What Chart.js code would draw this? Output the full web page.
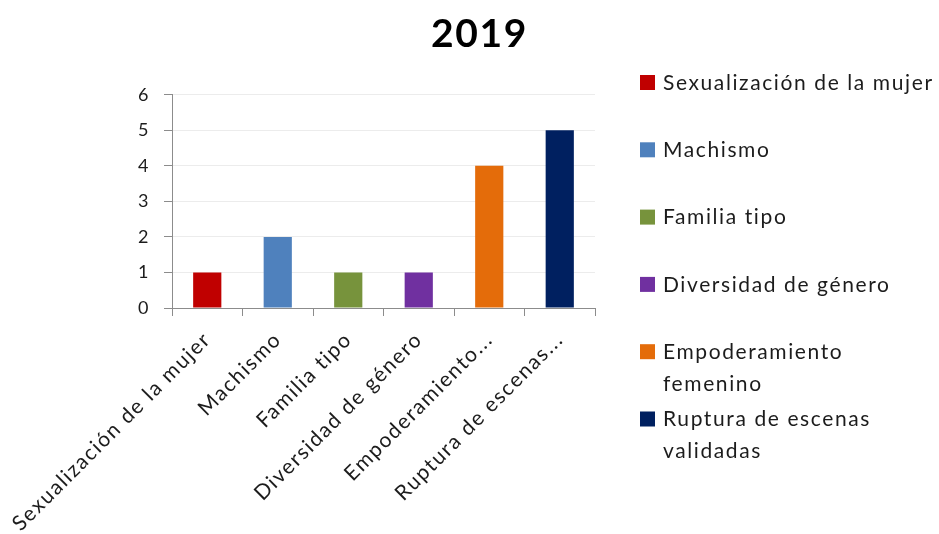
<!DOCTYPE html>
<html>
<head>
<meta charset="utf-8">
<script src="https://cdn.jsdelivr.net/npm/chart.js@4/dist/chart.umd.min.js"></script>
<style>
  body { margin: 0; background: #fff; }
  #wrap { width: 939px; height: 534px; }
</style>
</head>
<body>
<div id="wrap"><canvas id="chart" width="939" height="534"></canvas></div>
<script>
const categories = [
  "Sexualización de la mujer",
  "Machismo",
  "Familia tipo",
  "Diversidad de género",
  "Empoderamiento femenino",
  "Ruptura de escenas validadas",
];
const values = [1, 2, 1, 1, 4, 5];
const barColors = ["#c00000", "#4f81bd", "#77933c", "#7030a0", "#e46c0a", "#002060"];

// short names under the bars, wrapped names in the legend
const tickLabels = [
  "Sexualización de la mujer",
  "Machismo",
  "Familia tipo",
  "Diversidad de género",
  "Empoderamiento...",
  "Ruptura de escenas...",
];
const legendLines = [
  ["Sexualización de la mujer"],
  ["Machismo"],
  ["Familia tipo"],
  ["Diversidad de género"],
  ["Empoderamiento", "femenino"],
  ["Ruptura de escenas", "validadas"],
];

const textColor = "#1c1c1c";
const axisColor = "#8c8c8c";
const spacing = "1.6px";

// legend drawn as its own layout box on the right side
const legendBox = {
  position: "right",
  weight: 0,
  fullSize: false,
  options: {},
  width: 0,
  height: 0,
  chart: null,
  isHorizontal() { return false; },
  update(maxWidth, maxHeight) {
    this.width = 344;
    this.height = maxHeight;
  },
  getPadding() { return { left: 0, right: 0, top: 0, bottom: 0 }; },
  draw() {
    const ctx = this.chart.ctx;
    const x = this.left + 45;
    ctx.save();
    ctx.font = "21px Lato";
    ctx.textBaseline = "middle";
    legendLines.forEach((lines, i) => {
      const y = 83 + i * 67.3;
      ctx.fillStyle = barColors[i];
      ctx.fillRect(x, y - 8, 15, 15);
      ctx.fillStyle = textColor;
      lines.forEach((line, j) => {
        ctx.fillText(line, x + 23, y + j * 32);
      });
    });
    ctx.restore();
  },
};

const sideLegend = {
  id: "sideLegend",
  beforeInit(chart) {
    legendBox.chart = chart;
    Chart.layouts.addBox(chart, legendBox);
  },
  beforeDraw(chart) {
    // loose letter spacing for all canvas text
    chart.ctx.letterSpacing = spacing;
  },
};

new Chart(document.getElementById("chart"), {
  type: "bar",
  data: {
    labels: categories,
    datasets: [
      {
        data: values,
        backgroundColor: barColors,
        barPercentage: 0.4,
        categoryPercentage: 1,
      },
    ],
  },
  options: {
    responsive: false,
    animation: false,
    layout: { padding: { left: 20 } },
    plugins: {
      legend: { display: false },
      tooltip: { enabled: false },
      title: {
        display: true,
        text: "2019",
        color: "#000",
        font: { family: "Lato", size: 39, weight: "bold" },
        padding: { top: 11, bottom: 37 },
      },
    },
    scales: {
      x: {
        grid: { drawOnChartArea: false, tickColor: axisColor, tickLength: 8 },
        border: { color: axisColor },
        ticks: {
          color: textColor,
          font: { family: "Lato", size: 21 },
          padding: 11,
          maxRotation: 45,
          minRotation: 45,
          autoSkip: false,
          callback: (v, i) => tickLabels[i],
        },
        afterFit: (scale) => { scale.height = 226; },
      },
      y: {
        min: 0,
        max: 6,
        grid: { color: "#ececec", tickColor: axisColor, tickLength: 8 },
        border: { color: axisColor },
        ticks: {
          stepSize: 1,
          color: textColor,
          padding: 14,
          font: { family: "Lato", size: 18 },
        },
        afterFit: (scale) => { scale.width = 152; },
      },
    },
  },
  plugins: [sideLegend],
});
</script>
</body>
</html>
